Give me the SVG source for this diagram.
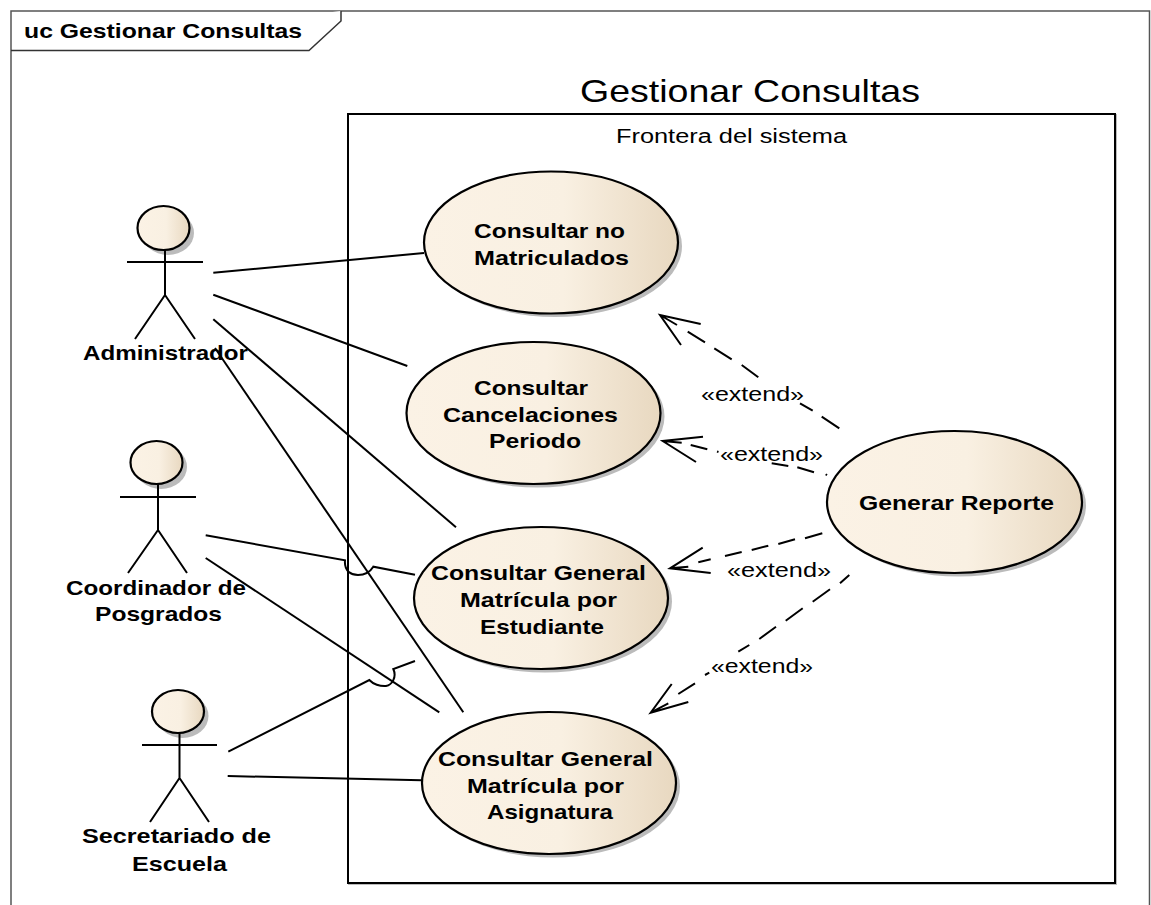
<svg xmlns="http://www.w3.org/2000/svg" width="1151" height="905" viewBox="0 0 1151 905">
<style>
text{font-family:"Liberation Sans",Arial,sans-serif;fill:#000}
.b{font-weight:bold;font-size:21px}
.u{font-weight:bold;font-size:20.5px}
.n{font-size:20px}
.l{fill:none;stroke:#000;stroke-width:2}
.f{fill:url(#g);stroke:#000;stroke-width:2.2}
.s{fill:#bbb}
</style>
<defs>
<linearGradient id="g" x1="0" x2="1" y1="0" y2="0"><stop offset="0" stop-color="#fbf2e5"/><stop offset="0.55" stop-color="#f9f0e2"/><stop offset="1" stop-color="#e8d8c0"/></linearGradient>
</defs>
<rect width="1151" height="905" fill="#fff"/>
<g id="frame">
<path d="M11 905V11H1149.500V905" fill="none" stroke="#555" stroke-width="1.5"/>
<path d="M11 50.500H309L341 21V11" fill="#fff" stroke="#333" stroke-width="1.500"/>
<text x="24" y="38" class="u" textLength="278" lengthAdjust="spacingAndGlyphs">uc Gestionar Consultas</text>
</g>
<g id="boundary">
<rect x="349" y="115" width="767" height="769" fill="none" stroke="#bbb" stroke-width="2"/>
<rect x="348" y="114" width="767" height="769" fill="#fff" stroke="#000" stroke-width="2"/>
<text x="580" y="102" style="font-size:32px" textLength="340" lengthAdjust="spacingAndGlyphs">Gestionar Consultas</text>
<text x="616" y="143" class="n" textLength="231" lengthAdjust="spacingAndGlyphs">Frontera del sistema</text>
</g>
<g id="uc1"><ellipse class="s" cx="555" cy="246" rx="127" ry="71"/><ellipse class="f" cx="551" cy="242.500" rx="127" ry="71"/><text x="474" y="238" class="b" textLength="151" lengthAdjust="spacingAndGlyphs">Consultar no</text><text x="474" y="265" class="b" textLength="155" lengthAdjust="spacingAndGlyphs">Matriculados</text></g>
<g id="uc2"><ellipse class="s" cx="537.500" cy="416.500" rx="127" ry="71"/><ellipse class="f" cx="533.500" cy="413" rx="127" ry="71"/><text x="474" y="395" class="b" textLength="114" lengthAdjust="spacingAndGlyphs">Consultar</text><text x="443" y="422" class="b" textLength="175" lengthAdjust="spacingAndGlyphs">Cancelaciones</text><text x="489" y="448" class="b" textLength="92" lengthAdjust="spacingAndGlyphs">Periodo</text></g>
<g id="uc3"><ellipse class="s" cx="545" cy="601.500" rx="127" ry="71"/><ellipse class="f" cx="541" cy="598" rx="127" ry="71"/><text x="431" y="580" class="b" textLength="215" lengthAdjust="spacingAndGlyphs">Consultar General</text><text x="460" y="607" class="b" textLength="157" lengthAdjust="spacingAndGlyphs">Matrícula por</text><text x="480" y="634" class="b" textLength="124" lengthAdjust="spacingAndGlyphs">Estudiante</text></g>
<g id="uc4"><ellipse class="s" cx="553" cy="786.500" rx="127" ry="71"/><ellipse class="f" cx="549" cy="783" rx="127" ry="71"/><text x="438" y="766" class="b" textLength="215" lengthAdjust="spacingAndGlyphs">Consultar General</text><text x="467" y="793" class="b" textLength="157" lengthAdjust="spacingAndGlyphs">Matrícula por</text><text x="487" y="819" class="b" textLength="126" lengthAdjust="spacingAndGlyphs">Asignatura</text></g>
<g id="uc5"><ellipse class="s" cx="958.500" cy="505.500" rx="127.500" ry="71"/><ellipse class="f" cx="954.500" cy="502" rx="127.500" ry="71"/><text x="859" y="510" class="b" textLength="195" lengthAdjust="spacingAndGlyphs">Generar Reporte</text></g>
<g id="actor1"><ellipse class="s" cx="168" cy="233" rx="26" ry="22"/><ellipse class="f" cx="163.500" cy="228" rx="26" ry="22"/><path class="l" d="M165 250V295M127 262H203M165 295L135 339M165 295L195 339"/><text x="83" y="360" class="b" textLength="165" lengthAdjust="spacingAndGlyphs">Administrador</text></g>
<g id="actor2"><ellipse class="s" cx="161" cy="467" rx="26" ry="22"/><ellipse class="f" cx="156.500" cy="462.500" rx="26" ry="21.500"/><path class="l" d="M158 484V530M120 497H196M158 530L128 573M158 530L187 573"/><text x="66" y="595" class="b" textLength="180" lengthAdjust="spacingAndGlyphs">Coordinador de</text><text x="95" y="621" class="b" textLength="127" lengthAdjust="spacingAndGlyphs">Posgrados</text></g>
<g id="actor3"><ellipse class="s" cx="182.500" cy="716" rx="26" ry="22"/><ellipse class="f" cx="178" cy="711.500" rx="26" ry="21.500"/><path class="l" d="M179.500 733V778M142 745H217M179.500 778L150 822M179.500 778L209 822"/><text x="82" y="843" class="b" textLength="189" lengthAdjust="spacingAndGlyphs">Secretariado de</text><text x="132" y="871" class="b" textLength="95" lengthAdjust="spacingAndGlyphs">Escuela</text></g>
<g id="labels">
<text x="701" y="401" class="n" textLength="103" lengthAdjust="spacingAndGlyphs">«extend»</text>
<text x="720" y="461" class="n" textLength="103" lengthAdjust="spacingAndGlyphs">«extend»</text>
<text x="727" y="577" class="n" textLength="104" lengthAdjust="spacingAndGlyphs">«extend»</text>
<text x="711" y="673" class="n" textLength="102" lengthAdjust="spacingAndGlyphs">«extend»</text>
</g>
<g id="connectors">
<path class="l" d="M213.300 272.700L424 253"/>
<path class="l" d="M213.300 294.700L407.300 366"/>
<path class="l" d="M213.300 319.300L456 527.300"/>
<path class="l" d="M215 348L463.300 712.300"/>
<path class="l" d="M205.700 535.300L345 560.300C344 572 352 575 358 575C366 575 370 572 373.300 566.700L415 574.700"/>
<path class="l" d="M205.700 558L439.300 712.300"/>
<path class="l" d="M228.300 751.700L369.300 680C373 684 380 686.500 386 686C392 685 397 677 393.300 669L415 661"/>
<path class="l" d="M227.700 776L421.700 780.300"/>
<path class="l" d="M687.700 331.700L705 342.300M714.300 348.300L731.700 359.300M741.700 365L758.300 377.300M800 403.300L812.700 410.700M821.700 416.700L839.300 428.300"/>
<path class="l" d="M700.700 324L660 315L681 345M660 315L677 325"/>
<path class="l" d="M690.700 445L707.300 449.300M717 451.500L718.500 452M771.700 463.300L788.300 466M797.300 467.300L814 472.300M825.700 474.300L827 475.300"/>
<path class="l" d="M703 436.700L662.700 441L696 462M662.700 441L681.700 442.700"/>
<path class="l" d="M698.300 562.300L710.700 559.300M725 556L741.700 552M751.700 550L768.300 545.700M778.300 544L795 539.300M805 538.300L822.300 533.300"/>
<path class="l" d="M702.700 547.700L670 568.300L710.700 573M670 568.300L688.300 566.700"/>
<path class="l" d="M678.300 694L695 683.300M705 675L709.300 672.700M738.300 651.700L749.300 645M759.300 639L776 626.700M785.700 620.700L802.700 608.300M812.700 601.700L830 589.300M840 583.300L849.300 575"/>
<path class="l" d="M671.700 684L650.700 712.700L688.300 702M650.700 712.700L668.300 703.300"/>
</g>
</svg>
